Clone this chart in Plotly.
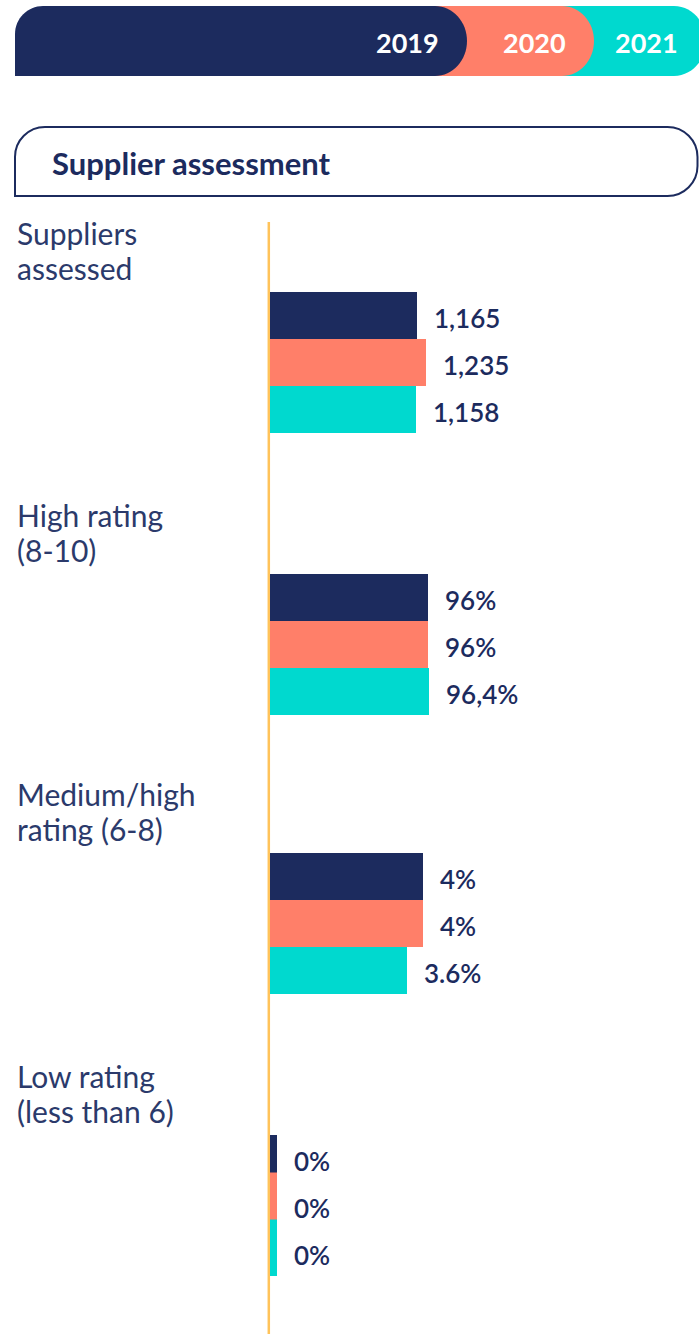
import plotly.graph_objects as go

# ---------------- data ----------------
years = ["2019", "2020", "2021"]
categories = [
    "Suppliers<br>assessed",
    "High rating<br>(8-10)",
    "Medium/high<br>rating (6-8)",
    "Low rating<br>(less than 6)",
]
suppliers_assessed = [1165, 1235, 1158]
high_rating = [96, 96, 96.4]
medium_high_rating = [4, 4, 3.6]
low_rating = [0, 0, 0]

suppliers_labels = ["1,165", "1,235", "1,158"]
high_labels = ["96%", "96%", "96,4%"]
medium_labels = ["4%", "4%", "3.6%"]
low_labels = ["0%", "0%", "0%"]

title_text = "Supplier assessment"

# ---------------- style ----------------
W, H = 699, 1334
NAVY = "#1C2B5E"
SALMON = "#FF7F69"
TEAL = "#00D9CF"
ORANGE = "#FFC35A"
LABEL_COLOR = "#2B3A6B"
year_colors = [NAVY, SALMON, TEAL]
FONT = "Lato"

series = [suppliers_assessed, high_rating, medium_high_rating, low_rating]
series_labels = [suppliers_labels, high_labels, medium_labels, low_labels]
group_tops = [292, 574, 853, 1135]      # pixel top of each bar block
block_h = 141                            # 3 bars * 47 px
x_ranges = [3395, 260, 11.24, 10]        # per-group value scale
bar_x0 = 270                             # pixel where bars start


def px(x):
    return x / W


def py(y):
    return 1 - y / H


fig = go.Figure()
annotations = []
shapes = []

for i, (vals, labs, top, xr) in enumerate(zip(series, series_labels, group_tops, x_ranges), start=1):
    xa = "x" if i == 1 else f"x{i}"
    ya = "y" if i == 1 else f"y{i}"
    fig.add_trace(go.Bar(
        x=vals, y=years, orientation="h", width=1.0,
        marker=dict(color=year_colors, line=dict(width=0)),
        xaxis=xa, yaxis=ya, showlegend=False, hoverinfo="skip",
    ))
    # zero values shown as a thin stub at the baseline
    zx = [v for v in vals if v == 0]
    zy = [y for v, y in zip(vals, years) if v == 0]
    zc = [c for v, c in zip(vals, year_colors) if v == 0]
    if zx:
        fig.add_trace(go.Scatter(
            x=zx, y=zy, mode="markers", cliponaxis=True,
            marker=dict(symbol="line-ns", size=47, color=zc,
                        line=dict(width=14, color=zc)),
            xaxis=xa, yaxis=ya, showlegend=False, hoverinfo="skip",
        ))
    layout_x = dict(domain=[px(bar_x0), 1], range=[0, xr], visible=False,
                    fixedrange=True, anchor=ya)
    layout_y = dict(domain=[py(top + block_h), py(top)], type="category",
                    categoryarray=years, range=[2.5, -0.5], visible=False,
                    fixedrange=True, anchor=xa)
    fig.update_layout(**{("xaxis" if i == 1 else f"xaxis{i}"): layout_x,
                         ("yaxis" if i == 1 else f"yaxis{i}"): layout_y})
    # value labels (category axes take the serial index as position)
    for k, (v, t) in enumerate(zip(vals, labs)):
        annotations.append(dict(
            x=v, y=k, xref=xa, yref=ya, text=t, showarrow=False,
            xanchor="left", yanchor="middle", xshift=15 + (7 if v == 0 else 0), yshift=-2,
            font=dict(family=FONT, size=26, color=NAVY, weight=600),
        ))
    # category label (two lines)
    lines = categories[i - 1].split("<br>")
    for j, line in enumerate(lines):
        base = top - 48 + 35 * j
        annotations.append(dict(
            x=px(15), y=py(base - 11), xref="paper", yref="paper", text=line,
            showarrow=False, xanchor="left", yanchor="middle",
            font=dict(family=FONT, size=30, color=LABEL_COLOR, weight=400),
        ))

# orange baseline
shapes.append(dict(type="line", xref="paper", yref="paper",
                   x0=px(268.8), x1=px(268.8), y0=py(222), y1=0,
                   line=dict(color=ORANGE, width=2.5), layer="below"))


def pill_path(L, R, T, B, r_tl, rx, square_left=False):
    k = 0.5523
    mid = (T + B) / 2
    ry = (B - T) / 2
    pts = []
    if square_left:
        pts.append(f"M{px(L)},{py(B)} L{px(L)},{py(T)}")
    else:
        pts.append(f"M{px(L)},{py(B)} L{px(L)},{py(T + r_tl)}")
        pts.append(f"C{px(L)},{py(T + r_tl - k * r_tl)} {px(L + r_tl - k * r_tl)},{py(T)} {px(L + r_tl)},{py(T)}")
    pts.append(f"L{px(R - rx)},{py(T)}")
    pts.append(f"C{px(R - rx + k * rx)},{py(T)} {px(R)},{py(mid - k * ry)} {px(R)},{py(mid)}")
    pts.append(f"C{px(R)},{py(mid + k * ry)} {px(R - rx + k * rx)},{py(B)} {px(R - rx)},{py(B)}")
    pts.append("Z")
    return " ".join(pts)


# legend pills (drawn widest first)
pill_rights = [467, 594, 706]
pill_lefts = [15, 420, 550]
for idx in [2, 1, 0]:
    shapes.append(dict(type="path", xref="paper", yref="paper",
                       path=pill_path(pill_lefts[idx], pill_rights[idx], 6, 76, 28, 32,
                                      square_left=(idx != 0)),
                       fillcolor=year_colors[idx], line=dict(width=0)))
for idx, yr in enumerate(years):
    annotations.append(dict(
        x=px(pill_rights[idx] - 26), y=py(43), xref="paper", yref="paper",
        text=yr, showarrow=False, xanchor="right", yanchor="middle",
        font=dict(family=FONT, size=27, color="white", weight=700),
    ))


# header box
def header_path(L, R, T, B, r):
    k = 0.5523
    p = [
        f"M{px(L)},{py(B)} L{px(L)},{py(T + r)}",
        f"C{px(L)},{py(T + r - k * r)} {px(L + r - k * r)},{py(T)} {px(L + r)},{py(T)}",
        f"L{px(R - r)},{py(T)}",
        f"C{px(R - r + k * r)},{py(T)} {px(R)},{py(T + r - k * r)} {px(R)},{py(T + r)}",
        f"L{px(R)},{py(B - r)}",
        f"C{px(R)},{py(B - r + k * r)} {px(R - r + k * r)},{py(B)} {px(R - r)},{py(B)}",
        "Z",
    ]
    return " ".join(p)


shapes.append(dict(type="path", xref="paper", yref="paper",
                   path=header_path(15, 697.5, 127, 196, 30),
                   fillcolor="white", line=dict(color=NAVY, width=2)))
annotations.append(dict(
    x=px(50), y=py(163), xref="paper", yref="paper", text=title_text,
    showarrow=False, xanchor="left", yanchor="middle",
    font=dict(family=FONT, size=31, color=NAVY, weight=700),
))

fig.update_layout(
    width=W, height=H, autosize=False,
    margin=dict(l=0, r=0, t=0, b=0, pad=0),
    paper_bgcolor="white", plot_bgcolor="rgba(0,0,0,0)",
    bargap=0, showlegend=False,
    shapes=shapes, annotations=annotations,
)

fig.write_html("out.html", config={"displayModeBar": False},
               post_script="document.body.style.margin='0';")
